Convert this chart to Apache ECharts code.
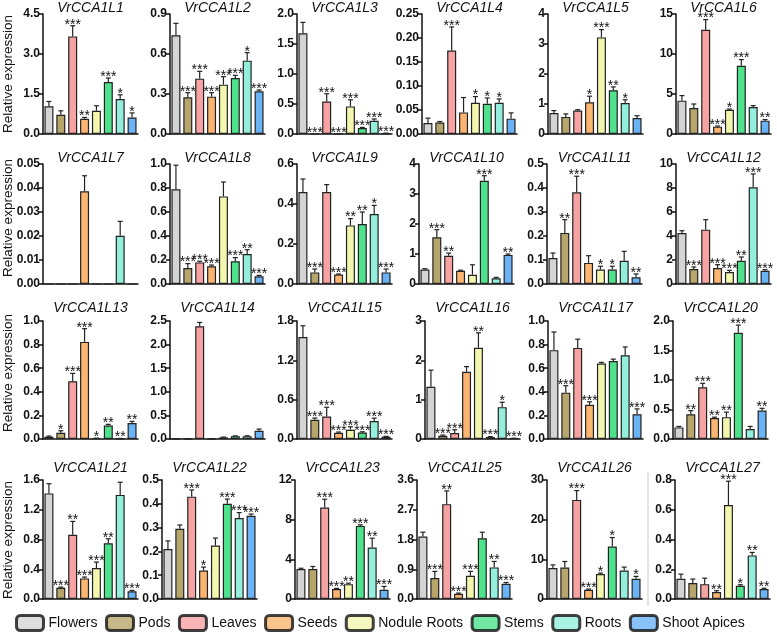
<!DOCTYPE html>
<html><head><meta charset="utf-8">
<script src="https://cdn.jsdelivr.net/npm/echarts@6/dist/echarts.min.js"></script>
<style>html,body{margin:0;padding:0;background:#fff}#c{width:777px;height:633px}</style>
</head><body><div id="c"></div>
<script>
const genes=['VrCCA1L1','VrCCA1L2','VrCCA1L3','VrCCA1L4','VrCCA1L5','VrCCA1L6',
 'VrCCA1L7','VrCCA1L8','VrCCA1L9','VrCCA1L10','VrCCA1L11','VrCCA1L12',
 'VrCCA1L13','VrCCA1L14','VrCCA1L15','VrCCA1L16','VrCCA1L17','VrCCA1L20',
 'VrCCA1L21','VrCCA1L22','VrCCA1L23','VrCCA1L25','VrCCA1L26','VrCCA1L27'];
const tissues=['Flowers','Pods','Leaves','Seeds','Nodule Roots','Stems','Roots','Shoot Apices'];
const yMax=[4.5,0.9,2,0.25,4,15, 0.05,1,0.6,4,0.5,10, 1,2.5,1.8,3,1,2, 1.6,0.5,12,3.6,30,0.8];
const yStep=[1.5,0.3,0.5,0.05,1,5, 0.01,0.2,0.2,1,0.1,2, 0.2,0.5,0.6,1,0.2,0.5, 0.4,0.1,4,0.9,10,0.2];
const yDecimals=[1,1,1,2,0,0, 2,1,1,0,1,0, 1,1,1,0,1,1, 1,1,0,1,0,1];
const means=[
 [1.04,0.72,3.66,0.57,0.87,1.95,1.31,0.62],
 [0.74,0.275,0.415,0.28,0.37,0.42,0.55,0.32],
 [1.68,0.005,0.54,0.005,0.46,0.10,0.22,0.01],
 [0.023,0.024,0.174,0.045,0.065,0.063,0.065,0.032],
 [0.70,0.57,0.78,1.06,3.22,1.46,1.03,0.53],
 [4.17,3.25,13.04,0.92,3.04,8.54,3.37,1.67],
 [0,0,0,0.0386,0,0,0.0201,0],
 [0.79,0.133,0.18,0.147,0.73,0.19,0.25,0.064],
 [0.46,0.058,0.46,0.047,0.293,0.30,0.35,0.058],
 [0.48,1.56,0.94,0.44,0.31,3.44,0.19,0.97],
 [0.108,0.213,0.382,0.088,0.06,0.06,0.097,0.028],
 [4.25,1.25,4.53,1.33,1.0,1.94,8.06,1.11],
 [0.02,0.053,0.49,0.823,0.005,0.115,0.003,0.135],
 [0.004,0.003,2.39,0.005,0.035,0.06,0.06,0.175],
 [1.557,0.293,0.344,0.096,0.142,0.10,0.273,0.035],
 [1.33,0.084,0.15,1.71,2.32,0.05,0.81,0.015],
 [0.753,0.393,0.772,0.29,0.64,0.66,0.71,0.21],
 [0.197,0.42,0.876,0.354,0.37,1.80,0.17,0.483],
 [1.42,0.152,0.863,0.277,0.416,0.75,1.40,0.103],
 [0.21,0.295,0.43,0.12,0.225,0.40,0.34,0.35],
 [3.02,3.02,9.22,1.0,1.5,7.37,5.2,0.94],
 [1.89,0.634,2.87,0.16,0.70,1.84,0.956,0.46],
 [7.8,7.96,24.98,2.35,6.29,13.24,7.2,5.11],
 [0.136,0.107,0.1,0.047,0.632,0.089,0.293,0.067]
];
const errs=[
 [0.18,0.15,0.40,0.05,0.19,0.15,0.16,0.17],
 [0.09,0.035,0.055,0.03,0.06,0.02,0.06,0.01],
 [0.18,0,0.13,0,0.11,0.01,0.03,0.005],
 [0.010,0.002,0.049,0.031,0.013,0.012,0.008,0.012],
 [0.08,0.10,0.03,0.20,0.26,0.11,0.11,0.08],
 [0.63,0.5,1.26,0.08,0.08,0.76,0.18,0.13],
 [0,0,0,0.0065,0,0,0.006,0],
 [0.2,0.037,0.01,0.011,0.12,0.03,0.036,0.008],
 [0.065,0.017,0.037,0.003,0.034,0.06,0.043,0.017],
 [0.03,0.25,0.09,0.02,0.33,0.17,0.03,0.03],
 [0.021,0.055,0.067,0.03,0.014,0.014,0.039,0.014],
 [0.19,0.17,0.83,0.28,0.14,0.31,1.11,0.08],
 [0.005,0.017,0.066,0.112,0.002,0.009,0.002,0.014],
 [0.002,0.002,0.08,0.002,0.005,0.006,0.008,0.035],
 [0.17,0.027,0.14,0.01,0.045,0.01,0.045,0.005],
 [0.42,0.016,0.086,0.13,0.38,0.01,0.125,0.005],
 [0.154,0.059,0.074,0.025,0.009,0.017,0.07,0.045],
 [0.016,0.06,0.068,0.016,0.085,0.13,0.043,0.037],
 [0.13,0.008,0.18,0.018,0.08,0.06,0.17,0.013],
 [0.034,0.016,0.028,0.014,0.031,0.02,0.023,0.007],
 [0.08,0.26,0.84,0.07,0.1,0.11,0.93,0.33],
 [0.13,0.2,0.4,0.02,0.135,0.18,0.18,0.04],
 [0.8,1.5,2.35,0.15,0.25,2.26,0.84,0.59],
 [0.031,0.027,0.04,0.009,0.16,0.007,0.02,0.005]
];
const stars=[
 ['','','***','**','','***','*','*'],
 ['','***','***','***','***','***','*','***'],
 ['','***','***','***','***','***','***','***'],
 ['','','***','','*','*','*',''],
 ['','','','*','***','**','*',''],
 ['','','***','***','*','***','','**'],
 ['','','','','','','',''],
 ['','***','***','***','','***','**','***'],
 ['','***','','***','**','**','*','***'],
 ['','***','**','','','***','','**'],
 ['','**','***','','*','*','','**'],
 ['','***','','***','***','**','***','***'],
 ['','*','***','***','*','**','**','**'],
 ['','','','','','','',''],
 ['','***','***','***','***','***','***','***'],
 ['','***','***','','**','***','*','***'],
 ['','***','','***','','','','***'],
 ['','**','***','**','**','***','','**'],
 ['','***','**','***','***','**','','***'],
 ['','','***','*','','***','***','***'],
 ['','','***','***','**','***','**','***'],
 ['','***','**','***','***','','**','***'],
 ['','','***','***','*','*','','*'],
 ['','','','**','***','*','**','**']
];

const palette=['#d4d4d4','#b7a66c','#f7a3a3','#fbb571','#f2f6ae','#4fe28d','#93eedb','#6ab3f6'];
const FONT='"Liberation Sans", Arial, sans-serif';
const rowTop=[14,164,321,480], rowH=[120,120,118,119];
const colLeft=[[43,170,297,422,548,676],[43,170,297,419,547,676],[43,170,297,425,548,673],[43,162,295,417,547,675]];
const PW=95;
const titleY=[8,158,308,468], ylabY=[74,218,373,540];

const grid=[],xAxis=[],yAxis=[],series=[],graphic=[];
genes.forEach((g,p)=>{
  const r=Math.floor(p/6), c=p%6;
  const left=colLeft[r][c], top=rowTop[r];
  grid.push({left:left,top:top,width:PW,height:rowH[r]});
  xAxis.push({gridIndex:p,type:'category',data:tissues,
    axisLine:{lineStyle:{color:'#111',width:1.5}},axisTick:{show:false},axisLabel:{show:false}});
  const dec=yDecimals[p];
  yAxis.push({gridIndex:p,type:'value',min:0,max:yMax[p],interval:yStep[p],
    splitLine:{show:false},
    axisLine:{show:true,lineStyle:{color:'#111',width:1.5}},
    axisTick:{show:true,length:4,lineStyle:{color:'#111',width:1.5}},
    axisLabel:{formatter:v=>v.toFixed(dec),fontWeight:'bold',fontSize:12,color:'#111',margin:3,fontFamily:FONT}});
  series.push({type:'bar',xAxisIndex:p,yAxisIndex:p,barWidth:9,silent:true,
    data:means[p].map((v,i)=>({value:v,itemStyle:{color:palette[i]}})),
    itemStyle:{borderColor:'#222',borderWidth:1.2}});
  series.push({type:'custom',xAxisIndex:p,yAxisIndex:p,silent:true,z:5,
    data:means[p].map((v,i)=>[i,v,errs[p][i]]),
    encode:{x:0,y:1},
    renderItem:(params,api)=>{
      const i=api.value(0),v=api.value(1),e=api.value(2);
      const b=api.coord([i,v]),t=api.coord([i,v+e]);
      const ch=[];
      if(e>0){
        ch.push({type:'line',shape:{x1:b[0],y1:b[1],x2:t[0],y2:t[1]},style:{stroke:'#222',lineWidth:1.2}});
        ch.push({type:'line',shape:{x1:t[0]-2.5,y1:t[1],x2:t[0]+2.5,y2:t[1]},style:{stroke:'#222',lineWidth:1.2}});
      }
      const s=stars[p][i];
      if(s) ch.push({type:'text',x:t[0],y:t[1]+6,style:{text:s,fill:'#111',font:'14px '+FONT,align:'center',verticalAlign:'bottom'}});
      return {type:'group',children:ch};
    }});
  graphic.push({type:'text',x:left+PW/2,y:titleY[r],
    style:{text:g,fill:'#111',font:'italic 14px '+FONT,align:'center',verticalAlign:'middle'}});
});
for(let r=0;r<4;r++){
  graphic.push({type:'text',x:8,y:ylabY[r],rotation:Math.PI/2,
    style:{text:'Relative expression',fill:'#111',font:'13.5px '+FONT,align:'center',verticalAlign:'middle'}});
}
graphic.push({type:'line',shape:{x1:648,y1:472,x2:648,y2:606},style:{stroke:'#c8c8c8',lineWidth:1}});

tissues.forEach((t,i)=>{
  series.push({type:'scatter',name:t,xAxisIndex:0,yAxisIndex:0,data:[],itemStyle:{color:palette[i]}});
});

const chart=echarts.init(document.getElementById('c'),null,{renderer:'canvas'});
chart.setOption({
  animation:false,
  grid,xAxis,yAxis,series,graphic,
  legend:{data:tissues,left:10,top:609,icon:'roundRect',itemWidth:27,itemHeight:15,itemGap:7.5,
    itemStyle:{borderColor:'#111',borderWidth:3},
    textStyle:{fontSize:14,color:'#111',fontFamily:FONT},selectedMode:false}
});
</script></body></html>
